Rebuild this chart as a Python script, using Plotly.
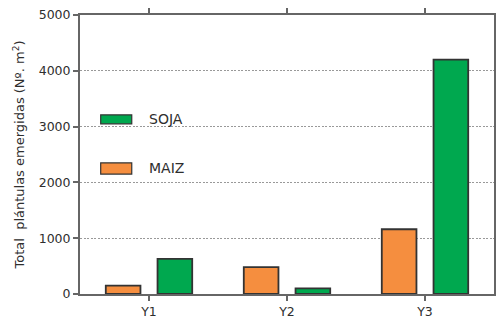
import plotly.graph_objects as go

# Emerged seedlings per year and crop
years = ["Y1", "Y2", "Y3"]
maiz = [150, 480, 1160]
soja = [630, 100, 4200]
y_ticks = [0, 1000, 2000, 3000, 4000, 5000]

ORANGE = "#F58E3F"
GREEN = "#00A84F"
EDGE = "#333333"
AXIS = "#666666"
FAMILY = "DejaVu Sans, Arial, sans-serif"
FONT = dict(family=FAMILY, size=12.5, color="#2e2e2e")
TITLE_FONT = dict(family=FAMILY, size=13, color="#2e2e2e")
LEGEND_FONT = dict(family=FAMILY, size=14, color="#2e2e2e")

fig = go.Figure()
fig.add_trace(go.Bar(x=years, y=maiz, name="MAIZ",
                     marker=dict(color=ORANGE, line=dict(color=EDGE, width=1.8))))
fig.add_trace(go.Bar(x=years, y=soja, name="SOJA",
                     marker=dict(color=GREEN, line=dict(color=EDGE, width=1.8))))

fig.update_layout(
    width=497, height=320,
    margin=dict(l=80, r=1, t=15, b=25),
    plot_bgcolor="white", paper_bgcolor="white",
    barmode="group", bargap=0.25, bargroupgap=0.33,
    showlegend=False,
    font=FONT,
)
fig.update_xaxes(
    showline=True, linecolor=AXIS, linewidth=2, mirror="ticks",
    ticks="outside", ticklen=5, tickwidth=1.5, tickcolor=AXIS,
    showgrid=False, tickfont=FONT,
)
fig.update_yaxes(
    range=[0, 5000], tickvals=y_ticks, ticktext=[str(v) for v in y_ticks],
    showline=True, linecolor=AXIS, linewidth=2, mirror=True,
    ticks="outside", ticklen=5, tickwidth=1.5, tickcolor=AXIS,
    showgrid=True, gridcolor="#999999", gridwidth=1, griddash="2px,1.5px",
    zeroline=False, tickfont=FONT,
    title=dict(text="Total  plántulas emergidas (Nº. m<sup>2</sup>)",
               font=TITLE_FONT, standoff=11),
)

# Legend drawn inside the plot area
legend_items = [("SOJA", GREEN, 0.642, 0.61), ("MAIZ", ORANGE, 0.47, 0.43)]
for label, color, y1, y0 in legend_items:
    fig.add_shape(type="rect", xref="paper", yref="paper",
                  x0=0.05, x1=0.125, y0=y0, y1=y1,
                  fillcolor=color, line=dict(color=EDGE, width=1.2))
    fig.add_annotation(xref="paper", yref="paper", x=0.163, y=(y0 + y1) / 2,
                       text=label, showarrow=False, xanchor="left",
                       yanchor="middle", font=LEGEND_FONT)

fig.write_html("out.html")
